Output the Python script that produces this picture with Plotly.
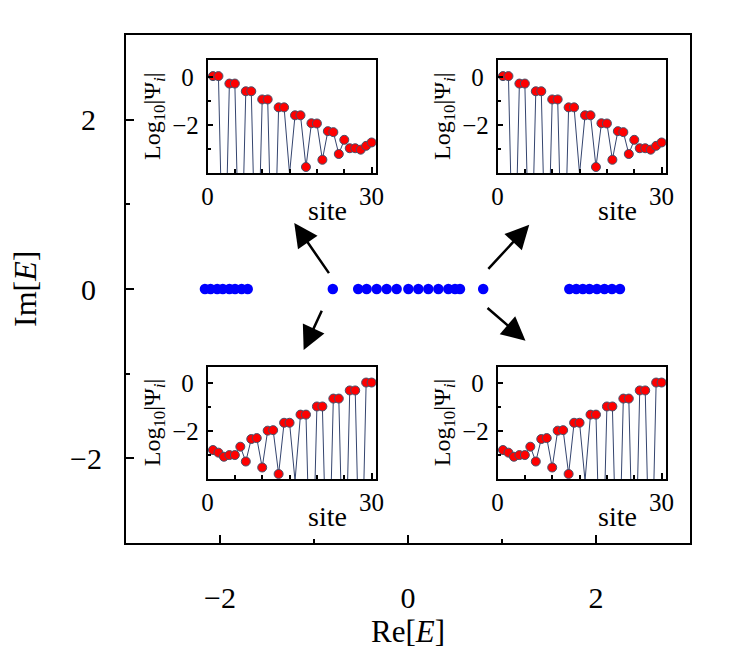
import plotly.graph_objects as go

# eigenvalues of the chain (Re, Im)
spectrum_re = [-2.16, -2.10, -2.03, -1.97, -1.90, -1.84, -1.77, -1.705,
               -0.80,
               -0.53, -0.44, -0.333, -0.227, -0.121, 0.004, 0.11, 0.216, 0.323, 0.429, 0.50, 0.553,
               0.80,
               1.716, 1.79, 1.86, 1.93, 2.01, 2.09, 2.17, 2.255]
spectrum_im = [0.0] * len(spectrum_re)

sites = list(range(1, 31))
# log10 |psi_i|, -10 stands for a vanishing amplitude (drawn off the bottom)
log_psi_top_left = [0.03, 0.03, -10, -0.28, -0.28, -10, -0.60, -0.60, -10, -0.94,
                    -0.94, -10, -1.27, -1.27, -4.04, -1.60, -1.60, -3.75, -1.93, -1.94,
                    -3.45, -2.26, -2.30, -3.21, -2.62, -2.97, -2.97, -3.03, -2.87, -2.73]
log_psi_top_right = [0.03, 0.03, -10, -0.28, -0.28, -10, -0.60, -0.60, -10, -0.94,
                     -0.94, -10, -1.27, -1.27, -4.04, -1.60, -1.60, -3.75, -1.93, -1.94,
                     -3.45, -2.26, -2.30, -3.21, -2.62, -2.97, -2.97, -3.03, -2.87, -2.73]
log_psi_bottom_left = [-2.79, -2.90, -3.07, -3.00, -3.00, -2.65, -3.27, -2.33, -2.29, -3.52,
                       -1.98, -1.96, -3.79, -1.65, -1.65, -4.07, -1.31, -1.31, -10, -0.97,
                       -0.97, -10, -0.64, -0.64, -10, -0.30, -0.30, -10, 0.03, 0.03]
log_psi_bottom_right = [-2.79, -2.90, -3.07, -3.00, -3.00, -2.65, -3.27, -2.33, -2.29, -3.52,
                        -1.98, -1.96, -3.79, -1.65, -1.65, -4.07, -1.31, -1.31, -10, -0.97,
                        -0.97, -10, -0.64, -0.64, -10, -0.30, -0.30, -10, 0.03, 0.03]

# arrows: (tail_re, tail_im, tip_re, tip_im)
arrows = [(-0.83, 0.17, -1.21, 0.78),
          (-0.91, -0.24, -1.11, -0.72),
          (0.84, 0.22, 1.29, 0.76),
          (0.83, -0.21, 1.25, -0.61)]

FONT = "Liberation Serif"
OFF = 8  # page body margin
W, H = 745 - 2 * OFF, 656 - 2 * OFF
# plot frame in screen pixels
FL, FR, FT, FB = 126, 690, 35, 543
L, T = FL - OFF, FT - OFF
R, B = W - (FR - OFF), H - (FB - OFF)
PW, PH = FR - FL, FB - FT


def px_x(p):
    return (p - FL) / PW


def px_y(p):
    return (FB - p) / PH


fig = go.Figure()
fig.add_trace(go.Scatter(x=spectrum_re, y=spectrum_im, mode="markers",
                         marker=dict(color="#0000ff", size=10.5),
                         xaxis="x", yaxis="y", showlegend=False))

# inset boxes in screen pixels: (left, right, top, bottom)
inset_boxes = [(207.5, 376, 60, 173), (497.5, 666, 60, 173),
               (207.5, 376, 366.5, 479), (497.5, 666, 366.5, 479)]
inset_data = [log_psi_top_left, log_psi_top_right, log_psi_bottom_left, log_psi_bottom_right]

layout = dict(
    width=W, height=H,
    margin=dict(l=L, r=R, t=T, b=B),
    paper_bgcolor="white", plot_bgcolor="white",
    font=dict(family=FONT, color="black"),
    showlegend=False,
    xaxis=dict(domain=[0, 1], range=[-3, 3], tickvals=[-2, 0, 2], ticktext=["\u22122", "0", "2"],
               ticks="inside", ticklen=8, tickwidth=2, tickcolor="black",
               minor=dict(tickvals=[-1, 1], ticks="inside", ticklen=4, tickwidth=2, tickcolor="black"),
               showline=True, linewidth=2, linecolor="black", mirror=True,
               showgrid=False, zeroline=False, tickfont=dict(size=30), ticklabelstandoff=27),
    yaxis=dict(domain=[0, 1], range=[-3, 3], tickvals=[-2, 0, 2], ticktext=["\u22122", "0\u2009", "2\u2009"],
               ticks="inside", ticklen=8, tickwidth=2, tickcolor="black",
               minor=dict(tickvals=[-1, 1], ticks="inside", ticklen=4, tickwidth=2, tickcolor="black"),
               showline=True, linewidth=2, linecolor="black", mirror=True,
               showgrid=False, zeroline=False, tickfont=dict(size=30), ticklabelstandoff=16),
)

annotations = [
    dict(text="Re[<i>E</i>]", x=0.5, y=px_y(631), xref="paper", yref="paper",
         showarrow=False, font=dict(size=31, family=FONT), xanchor="center", yanchor="middle"),
    dict(text="Im[<i>E</i>]", x=px_x(25), y=0.5, xref="paper", yref="paper", textangle=-90,
         showarrow=False, font=dict(size=32, family=FONT), xanchor="center", yanchor="middle"),
]

for i, ((x0, x1, y0, y1), vals) in enumerate(zip(inset_boxes, inset_data)):
    n = i + 2
    xa, ya = f"x{n}", f"y{n}"
    fig.add_trace(go.Scatter(x=sites, y=vals, mode="lines", line=dict(color="#34446e", width=1),
                             xaxis=xa, yaxis=ya, showlegend=False))
    fig.add_trace(go.Scatter(x=sites, y=[v if v > -5 else None for v in vals], mode="markers",
                             marker=dict(color="#ff0000", size=9, line=dict(color="#45506a", width=1)),
                             cliponaxis=False, xaxis=xa, yaxis=ya, showlegend=False))
    layout[f"xaxis{n}"] = dict(
        domain=[px_x(x0), px_x(x1)], range=[0, 30.8], anchor=ya,
        tickvals=[0, 30], ticktext=["0", "30"],
        ticks="inside", ticklen=6, tickwidth=1.5, tickcolor="black",
        minor=dict(tickvals=[5, 10, 15, 20, 25], ticks="inside", ticklen=4.5, tickwidth=1.5,
                   tickcolor="black"),
        showline=True, linewidth=1.5, linecolor="black", mirror=True,
        showgrid=False, zeroline=False, tickfont=dict(size=25), ticklabelstandoff=0)
    layout[f"yaxis{n}"] = dict(
        domain=[px_y(y1), px_y(y0)], range=[-4, 0.7], anchor=xa,
        tickvals=[0, -2], ticktext=["0\u2009", "\u22122"],
        ticks="inside", ticklen=6, tickwidth=1.5, tickcolor="black",
        minor=dict(tickvals=[-1, -3], ticks="inside", ticklen=4, tickwidth=1.5, tickcolor="black"),
        showline=True, linewidth=1.5, linecolor="black", mirror=True,
        showgrid=False, zeroline=False, tickfont=dict(size=25), ticklabelstandoff=2)
    annotations.append(dict(text="Log<sub>10</sub>|\u03a8<sub><i>i</i></sub>|",
                            x=px_x(x0 - 54), y=px_y((y0 + y1) / 2), xref="paper", yref="paper",
                            textangle=-90, showarrow=False, font=dict(size=24, family=FONT),
                            xanchor="center", yanchor="middle"))
    annotations.append(dict(text="site", x=px_x(x0 + 120), y=px_y(y1 + 37), xref="paper", yref="paper",
                            showarrow=False, font=dict(size=28, family=FONT),
                            xanchor="center", yanchor="middle"))

for tx, ty, hx, hy in arrows:
    annotations.append(dict(x=hx, y=hy, ax=tx, ay=ty, xref="x", yref="y", axref="x", ayref="y",
                            text="", showarrow=True, arrowhead=2, arrowsize=1.9, arrowwidth=2.5,
                            arrowcolor="black", standoff=0, startstandoff=0))

layout["annotations"] = annotations
fig.update_layout(**layout)
fig.write_html("out.html")
